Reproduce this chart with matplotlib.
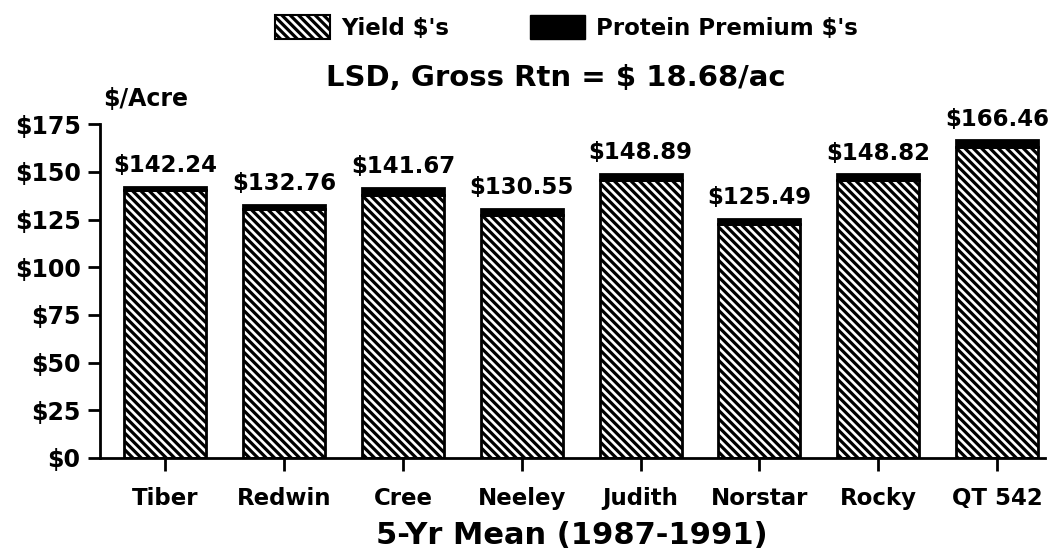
import matplotlib.pyplot as plt
from matplotlib.patches import Patch

plt.rcParams['font.family'] = ['DejaVu Sans']
plt.rcParams['hatch.linewidth'] = 2.3

varieties = ['Tiber', 'Redwin', 'Cree', 'Neeley', 'Judith', 'Norstar', 'Rocky', 'QT 542']
totals = [142.24, 132.76, 141.67, 130.55, 148.89, 125.49, 148.82, 166.46]
premium = [2.0, 2.0, 4.0, 3.0, 3.2, 3.0, 3.0, 3.2]
yield_vals = [t - p for t, p in zip(totals, premium)]
yticks = [0, 25, 50, 75, 100, 125, 150, 175]

fig = plt.figure(figsize=(10.53, 5.57), dpi=100)
ax = fig.add_axes([0.095, 0.178, 0.897, 0.599])

x = range(len(varieties))
ax.bar(x, yield_vals, width=0.69, color='white', edgecolor='black',
       hatch='\\\\\\\\', linewidth=2)
ax.bar(x, premium, width=0.69, bottom=yield_vals, color='black',
       edgecolor='black', linewidth=2)

for i, t in enumerate(totals):
    ax.text(i, t + 5, f'${t:.2f}', ha='center', va='bottom',
            fontsize=16.5, fontweight='bold', clip_on=False)

ax.set_xlim(-0.55, 7.4)
ax.set_ylim(0, 175)
ax.set_yticks(yticks)
ax.set_yticklabels([f'${v}' for v in yticks], fontsize=17, fontweight='bold')
ax.set_xticks(list(x))
ax.set_xticklabels(varieties, fontsize=16.5, fontweight='bold')
ax.tick_params(axis='both', length=9, width=2, pad=5)
ax.tick_params(axis='x', pad=12)
for s in ['top', 'right']:
    ax.spines[s].set_visible(False)
for s in ['left', 'bottom']:
    ax.spines[s].set_linewidth(2)

ax.set_xlabel('5-Yr Mean (1987-1991)', fontsize=22, fontweight='semibold', labelpad=8)

fig.text(0.098, 0.81, '$/Acre', fontsize=17, fontweight='bold')
fig.text(0.528, 0.845, 'LSD, Gross Rtn = $ 18.68/ac', ha='center',
         fontsize=21, fontweight='bold')

handles = [Patch(facecolor='white', edgecolor='black', hatch='\\\\\\\\', linewidth=1.5),
           Patch(facecolor='black', edgecolor='black')]
fig.legend(handles, ["Yield $'s", "Protein Premium $'s"], loc='upper center',
           bbox_to_anchor=(0.538, 1.01), ncol=2, frameon=False,
           prop={'size': 16.5, 'weight': 'bold'}, handlelength=2.4,
           handleheight=1.2, columnspacing=3.5, handletextpad=0.5)

plt.savefig('out.png')
